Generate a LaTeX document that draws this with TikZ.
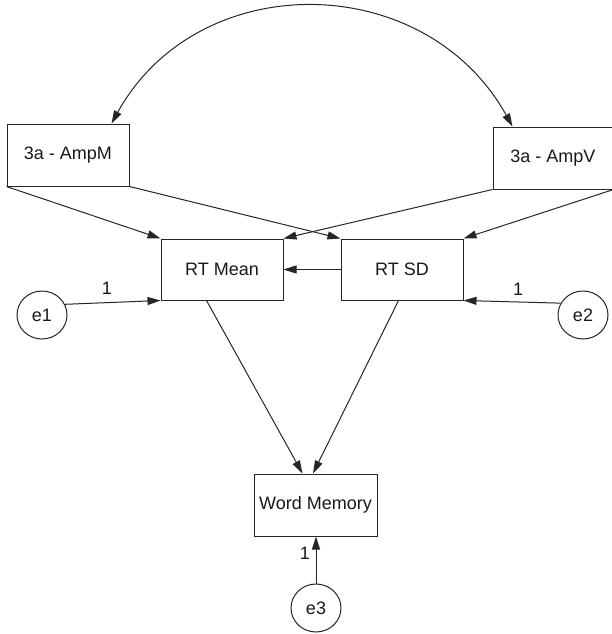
\documentclass[tikz,border=0pt]{standalone}
\usepackage{fontspec}
\setmainfont{Liberation Sans}
\usetikzlibrary{arrows.meta,shapes.geometric}
\begin{document}
\begin{tikzpicture}[x=1pt,y=-1pt,
  lbl/.style={font=\fontsize{18}{20}\selectfont,text=black!90},
  box/.style={lbl,draw=black!85,line width=1pt,rectangle,inner sep=0pt,minimum width=122pt,minimum height=62pt},
  err/.style={lbl,draw=black!85,line width=1pt,ellipse,inner sep=0pt,minimum width=50pt,minimum height=48pt},
  conn/.style={draw=black!85,line width=1pt,-{Triangle[length=13pt,width=8pt]}},
  dconn/.style={draw=black!85,line width=1pt,{Triangle[length=13pt,width=8pt]}-{Triangle[length=13pt,width=8pt]}}
]
\useasboundingbox (0,0) rectangle (611,634);
\fill[white] (0,0) rectangle (611,634);

\node[box] (ampM) at (68,155) {3a - AmpM};
\node[box,minimum width=120pt] (ampV) at (553,158) {3a - AmpV};
\node[box,minimum height=61pt] (rtmean) at (222,269.5) {RT Mean};
\node[box,minimum height=61pt] (rtsd) at (402,269.5) {RT SD};
\node[box,minimum width=123pt] (wm) at (315.5,505) {Word Memory};
\node[err] (e1) at (42,315) {e1};
\node[err] (e2) at (583,315) {e2};
\node[err] (e3) at (316,608) {e3};

\coordinate (cA) at ([xshift=-18pt]ampM.north east);
\coordinate (cB) at ([xshift=20pt]ampV.north west);
\draw[dconn] (cA) .. controls +(87,-157) and +(-87,-157) .. (cB);

\draw[conn] (ampM.south west) -- (rtmean.north west);
\draw[conn] (ampM.south east) -- (rtsd.north west);
\draw[conn] (ampV.south west) -- (rtmean.north east);
\draw[conn] (ampV.south east) -- (rtsd.north east);
\draw[conn] (rtsd.west) -- (rtmean.east);

\draw[conn] (e1.25) -- (rtmean.south west);
\draw[conn] (e2.152) -- (rtsd.south east);
\draw[conn] (e3.north) -- (wm.south -| e3.north);

\draw[conn] ([xshift=46pt]rtmean.south west) -- ([xshift=-13pt]wm.north);
\draw[conn] ([xshift=58pt]rtsd.south west) -- ([xshift=-2.5pt]wm.north);

\node[lbl] (l1) at (107,288) {1};
\node[lbl] (l2) at (518,289) {1};
\node[lbl] (l3) at (305,553) {1};
\end{tikzpicture}
\end{document}
